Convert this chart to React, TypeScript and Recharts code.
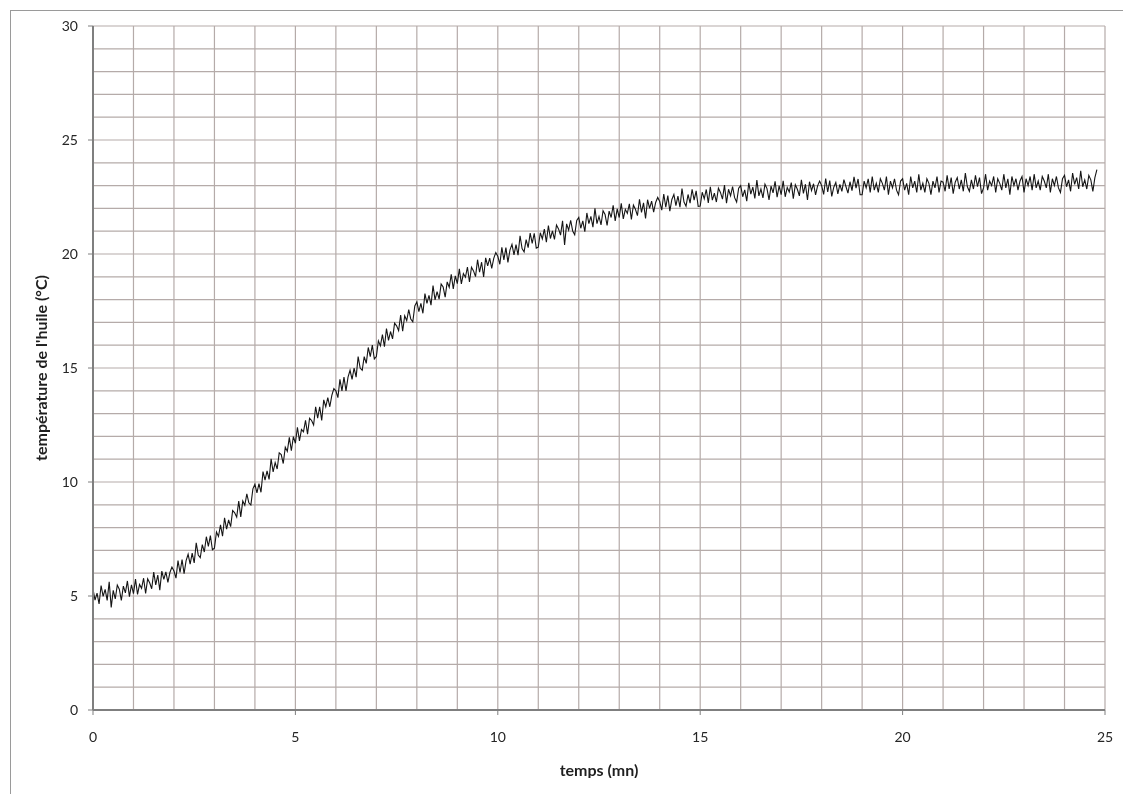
import React from "react";
import { LineChart, Line, XAxis, YAxis, ReferenceLine, Label } from "recharts";

// sampling: one reading every 0.05 min, starting at t = 0
const timeStart = 0;
const timeStep = 0.05;

// oil temperature (°C), 0.00 → 24.80 min (one row per minute)
const temperature: number[] = [
  5.30, 4.82, 5.13, 4.65, 5.46, 4.98, 5.29, 4.81, 5.62, 4.50, 5.25, 4.87, 5.48, 5.30, 4.81, 5.43, 5.14, 5.66, 4.97, 5.49,
  5.10, 5.74, 5.07, 5.51, 5.34, 5.78, 5.11, 5.75, 5.58, 5.32, 6.05, 5.49, 5.92, 5.26, 6.09, 5.73, 6.06, 5.60, 6.03, 6.27,
  6.10, 5.78, 6.55, 6.03, 6.60, 5.98, 6.55, 6.83, 6.40, 6.88, 6.45, 7.33, 6.80, 6.68, 7.25, 6.93, 7.60, 7.18, 7.65, 7.03,
  7.10, 7.81, 7.61, 8.12, 7.62, 8.43, 7.93, 8.34, 8.04, 8.75, 8.65, 8.46, 9.16, 8.47, 9.17, 8.98, 9.48, 9.09, 8.99, 9.70,
  9.90, 9.52, 9.93, 9.55, 10.46, 10.08, 10.49, 10.11, 11.02, 10.44, 10.85, 10.57, 11.28, 11.20, 10.81, 11.53, 11.34, 11.96, 11.37, 11.99,
  11.70, 12.40, 11.80, 12.30, 12.20, 12.70, 12.10, 12.80, 12.70, 12.50, 13.30, 12.80, 13.30, 12.70, 13.60, 13.30, 13.70, 13.30, 13.80, 14.10,
  14.00, 13.70, 14.50, 14.00, 14.60, 14.00, 14.60, 14.90, 14.50, 15.00, 14.60, 15.50, 15.00, 14.90, 15.50, 15.20, 15.90, 15.50, 16.00, 15.40,
  15.50, 16.19, 15.97, 16.46, 15.94, 16.73, 16.21, 16.60, 16.28, 16.97, 16.85, 16.64, 17.32, 16.61, 17.29, 17.08, 17.56, 17.15, 17.03, 17.72,
  17.90, 17.47, 17.83, 17.40, 18.26, 17.83, 18.19, 17.76, 18.62, 17.99, 18.35, 18.02, 18.68, 18.55, 18.11, 18.78, 18.54, 19.11, 18.47, 19.04,
  18.70, 19.35, 18.69, 19.14, 18.98, 19.43, 18.77, 19.42, 19.26, 19.01, 19.75, 19.20, 19.64, 18.99, 19.83, 19.48, 19.82, 19.37, 19.81, 20.06,
  19.90, 19.55, 20.29, 19.74, 20.28, 19.63, 20.17, 20.42, 19.96, 20.41, 19.95, 20.80, 20.24, 20.09, 20.63, 20.28, 20.92, 20.47, 20.91, 20.26,
  20.30, 20.93, 20.66, 21.09, 20.52, 21.25, 20.68, 21.01, 20.64, 21.27, 21.10, 20.83, 21.46, 20.40, 21.32, 21.05, 21.48, 21.01, 20.84, 21.47,
  21.60, 21.13, 21.45, 20.98, 21.80, 21.33, 21.65, 21.18, 22.00, 21.33, 21.65, 21.28, 21.90, 21.73, 21.25, 21.88, 21.60, 22.13, 21.45, 21.98,
  21.60, 22.22, 21.54, 21.96, 21.78, 22.20, 21.52, 22.14, 21.96, 21.68, 22.40, 21.82, 22.24, 21.56, 22.38, 22.00, 22.32, 21.84, 22.26, 22.48,
  22.30, 21.92, 22.63, 22.05, 22.56, 21.88, 22.39, 22.61, 22.12, 22.54, 22.05, 22.87, 22.28, 22.10, 22.61, 22.23, 22.84, 22.36, 22.77, 22.09,
  22.10, 22.71, 22.42, 22.83, 22.24, 22.95, 22.36, 22.67, 22.28, 22.89, 22.70, 22.41, 23.02, 22.23, 22.84, 22.55, 22.96, 22.47, 22.28, 22.89,
  23.00, 22.51, 22.81, 22.32, 23.12, 22.63, 22.93, 22.44, 23.24, 22.55, 22.85, 22.46, 23.06, 22.87, 22.37, 22.98, 22.68, 23.19, 22.49, 22.99,
  22.60, 23.21, 22.51, 22.92, 22.72, 23.13, 22.43, 23.04, 22.84, 22.55, 23.25, 22.66, 23.06, 22.37, 23.17, 22.78, 23.08, 22.59, 22.99, 23.20,
  23.00, 22.61, 23.31, 22.72, 23.22, 22.53, 22.93, 23.14, 22.64, 23.05, 22.75, 23.26, 22.96, 22.67, 23.17, 22.78, 23.38, 22.89, 23.29, 22.60,
  22.60, 23.20, 22.90, 23.30, 22.70, 23.40, 22.80, 23.10, 22.70, 23.30, 23.10, 22.80, 23.40, 22.60, 23.20, 22.90, 23.30, 22.80, 22.60, 23.20,
  23.30, 22.80, 23.10, 22.60, 23.40, 22.90, 23.20, 22.70, 23.50, 22.80, 23.10, 22.70, 23.30, 23.10, 22.60, 23.20, 22.90, 23.40, 22.70, 23.20,
  23.15, 22.75, 23.45, 22.85, 23.35, 22.65, 23.15, 23.35, 22.85, 23.25, 22.75, 23.55, 22.95, 22.75, 23.25, 22.85, 23.45, 22.95, 23.35, 22.65,
  22.90, 23.50, 22.80, 23.20, 23.00, 23.40, 22.70, 23.30, 23.10, 22.80, 23.50, 22.90, 23.30, 22.60, 23.40, 23.00, 23.30, 22.80, 23.20, 23.40,
  22.70, 23.30, 23.00, 23.40, 22.80, 23.50, 22.90, 23.20, 22.80, 23.40, 23.20, 22.90, 23.50, 22.70, 23.30, 23.00, 23.40, 22.90, 22.70, 23.30,
  23.45, 22.95, 23.25, 22.75, 23.55, 23.05, 23.35, 22.85, 23.65, 22.95, 23.25, 22.85, 23.45, 23.25, 22.75, 23.35, 23.70,
];

const xTicks = [0, 5, 10, 15, 20, 25];
const yTicks = [0, 5, 10, 15, 20, 25, 30];
const xGrid = [1, 2, 3, 4, 5, 6, 7, 8, 9, 10, 11, 12, 13, 14, 15, 16, 17, 18, 19, 20, 21, 22, 23, 24, 25];
const yGrid = [1, 2, 3, 4, 5, 6, 7, 8, 9, 10, 11, 12, 13, 14, 15, 16, 17, 18, 19, 20, 21, 22, 23, 24, 25, 26, 27, 28, 29, 30];

const xLabel = "temps (mn)";
const yLabel = "température de l'huile (°C)";

const data = temperature.map((v, i) => ({
  t: Math.round((timeStart + i * timeStep) * 100) / 100,
  temp: v,
}));

const FONT = "Lato, 'Open Sans', 'Liberation Sans', sans-serif";
const GRID = "#b5aba9";
const AXIS = "#7f7f7f";

const YTitle = (props: any) => {
  const vb = props.viewBox || {};
  const cx = vb.x + 2;
  const cy = vb.y + vb.height / 2;
  return (
    <text
      x={cx}
      y={cy}
      transform={`rotate(-90, ${cx}, ${cy})`}
      textAnchor="middle"
      dominantBaseline="central"
      fontFamily={FONT}
      fontWeight="bold"
      fontSize={16}
      fill="#1f1f1f"
    >
      {yLabel}
    </text>
  );
};

const XTitle = (props: any) => {
  const vb = props.viewBox || {};
  const cx = vb.x + vb.width / 2;
  const cy = vb.y + 59;
  return (
    <text
      x={cx}
      y={cy}
      textAnchor="middle"
      dominantBaseline="central"
      fontFamily={FONT}
      fontWeight="bold"
      fontSize={16}
      fill="#1f1f1f"
    >
      {xLabel}
    </text>
  );
};

export default function App() {
  return (
    <div style={{ position: "relative", width: 1110, height: 770, fontFamily: FONT }}>
      <div
        style={{
          position: "fixed",
          left: 10,
          top: 10,
          width: 1300,
          height: 900,
          borderTop: "1px solid #9a9a9a",
          borderLeft: "1px solid #9a9a9a",
          pointerEvents: "none",
        }}
      />
      <LineChart
        width={1110}
        height={770}
        data={data}
        margin={{ top: 18, right: 13, bottom: 28, left: 30 }}
      >
        {xGrid.map((g) => (
          <ReferenceLine key={"vx" + g} x={g} stroke={GRID} strokeWidth={1.2} />
        ))}
        {yGrid.map((g) => (
          <ReferenceLine key={"hy" + g} y={g} stroke={GRID} strokeWidth={1.2} />
        ))}
        <XAxis
          dataKey="t"
          type="number"
          domain={[0, 25]}
          ticks={xTicks}
          allowDataOverflow
          height={40}
          tickSize={5}
          tickMargin={17}
          axisLine={{ stroke: AXIS, strokeWidth: 2 }}
          tickLine={{ stroke: AXIS }}
          tick={{ fill: "#262626", fontSize: 14, fontFamily: FONT }}
        >
          <Label content={<XTitle />} />
        </XAxis>
        <YAxis
          type="number"
          domain={[0, 30]}
          ticks={yTicks}
          width={55}
          tickSize={5}
          tickMargin={10}
          axisLine={{ stroke: AXIS, strokeWidth: 2 }}
          tickLine={{ stroke: AXIS }}
          tick={{ fill: "#262626", fontSize: 14, fontFamily: FONT }}
        >
          <Label content={<YTitle />} />
        </YAxis>
        <Line
          type="linear"
          dataKey="temp"
          stroke="#151515"
          strokeWidth={1.1}
          dot={false}
          activeDot={false}
          isAnimationActive={false}
        />
      </LineChart>
    </div>
  );
}
